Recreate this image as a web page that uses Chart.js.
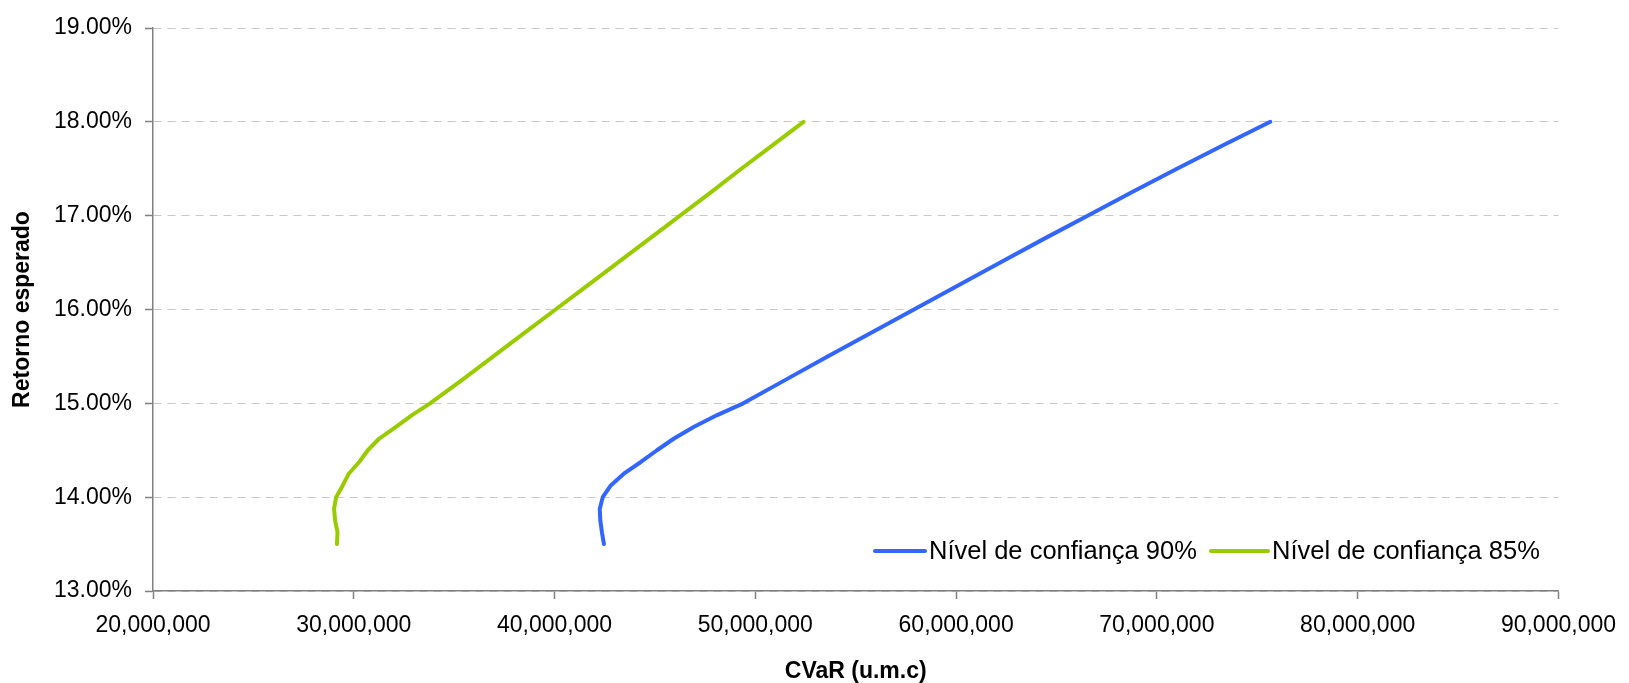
<!DOCTYPE html>
<html>
<head>
<meta charset="utf-8">
<title>Retorno esperado x CVaR</title>
<script src="https://cdn.jsdelivr.net/npm/chart.js@4.4.1/dist/chart.umd.min.js"></script>
<style>
  html, body { margin: 0; padding: 0; background: #ffffff; }
  #wrap { width: 1629px; height: 683px; }
</style>
</head>
<body>
<div id="wrap"><canvas id="grafico" width="1629" height="683"></canvas></div>
<script>
// Retorno esperado (%) de cada carteira da fronteira
const retornoEsperado = [13.5, 13.625, 13.75, 13.875, 14.0, 14.125, 14.25, 14.375, 14.5, 14.625, 14.75, 14.875,
  15.0, 15.25, 15.5, 15.75, 16.0, 16.25, 16.5, 16.75, 17.0, 17.25, 17.5, 17.75, 18.0];

// CVaR (u.m.c) para nível de confiança de 90%
const cvar90 = [42460000, 42360000, 42280000, 42250000, 42400000, 42800000, 43450000, 44300000, 45100000, 45950000,
  46950000, 48100000, 49400000, 51500000, 53600000, 55750000, 57900000, 60050000, 62200000, 64350000,
  66550000, 68750000, 71000000, 73300000, 75650000];

// CVaR (u.m.c) para nível de confiança de 85%
const cvar85 = [29160000, 29190000, 29070000, 29020000, 29120000, 29450000, 29750000, 30270000, 30700000, 31270000,
  32100000, 32900000, 33800000, 35400000, 36950000, 38500000, 40050000, 41600000, 43150000, 44700000,
  46250000, 47800000, 49300000, 50850000, 52400000];

const nomesSeries = ['Nível de confiança 90%', 'Nível de confiança 85%'];
const coresSeries = ['#3366ff', '#99cc00'];

// Marcas dos eixos
const ticksX = [20000000, 30000000, 40000000, 50000000, 60000000, 70000000, 80000000, 90000000];
const ticksY = [13, 14, 15, 16, 17, 18, 19];

const pontos = (xs) => xs.map((x, i) => ({ x: x, y: retornoEsperado[i] }));

const FONTE = "'Liberation Sans', Arial, Helvetica, sans-serif";

// Legenda desenhada dentro da área do gráfico, canto inferior direito
const legendaInterna = {
  id: 'legendaInterna',
  afterDraw(chart) {
    const ctx = chart.ctx;
    const y = 551;
    const itens = [
      { x0: 875, x1: 925, tx: 929 },
      { x0: 1211, x1: 1268, tx: 1272 }
    ];
    ctx.save();
    ctx.font = '25.5px ' + FONTE;
    ctx.textBaseline = 'middle';
    ctx.textAlign = 'left';
    chart.data.datasets.forEach((ds, i) => {
      const it = itens[i];
      ctx.strokeStyle = ds.borderColor;
      ctx.lineWidth = 4;
      ctx.lineCap = 'round';
      ctx.beginPath();
      ctx.moveTo(it.x0, y);
      ctx.lineTo(it.x1, y);
      ctx.stroke();
      ctx.fillStyle = '#000000';
      ctx.fillText(ds.label, it.tx, y + 1);
    });
    ctx.restore();
  }
};

new Chart(document.getElementById('grafico'), {
  type: 'scatter',
  data: {
    datasets: [
      {
        label: nomesSeries[0],
        data: pontos(cvar90),
        borderColor: coresSeries[0],
        backgroundColor: coresSeries[0],
        showLine: true,
        borderWidth: 4,
        pointRadius: 0,
        tension: 0,
        borderCapStyle: 'round',
        borderJoinStyle: 'round'
      },
      {
        label: nomesSeries[1],
        data: pontos(cvar85),
        borderColor: coresSeries[1],
        backgroundColor: coresSeries[1],
        showLine: true,
        borderWidth: 4,
        pointRadius: 0,
        tension: 0,
        borderCapStyle: 'round',
        borderJoinStyle: 'round'
      }
    ]
  },
  options: {
    responsive: false,
    animation: false,
    events: [],
    layout: { padding: { top: 28, right: 64, bottom: 0, left: 0 } },
    plugins: {
      legend: { display: false },
      tooltip: { enabled: false }
    },
    scales: {
      x: {
        type: 'linear',
        min: ticksX[0],
        max: ticksX[ticksX.length - 1],
        afterBuildTicks(scale) { scale.ticks = ticksX.map(v => ({ value: v })); },
        afterFit(scale) { scale.height = 92; },
        border: { display: true, color: '#808080', width: 1.5 },
        grid: {
          display: true,
          drawOnChartArea: false,
          drawTicks: true,
          tickLength: 8,
          tickColor: '#808080',
          tickWidth: 1.5
        },
        ticks: {
          color: '#000000',
          padding: 13,
          maxRotation: 0,
          autoSkip: false,
          font: { family: FONTE, size: 23 },
          callback: (v) => Number(v).toLocaleString('en-US')
        },
        title: {
          display: true,
          text: 'CVaR (u.m.c)',
          color: '#000000',
          font: { family: FONTE, size: 23, weight: 'bold', lineHeight: 1 },
          padding: { top: 0, bottom: 0 }
        }
      },
      y: {
        type: 'linear',
        min: ticksY[0],
        max: ticksY[ticksY.length - 1],
        afterBuildTicks(scale) { scale.ticks = ticksY.map(v => ({ value: v })); },
        afterFit(scale) { scale.width = 153; },
        border: { display: true, color: '#808080', width: 1.5, dash: [8, 6] },
        grid: {
          display: true,
          drawOnChartArea: true,
          color: '#c8c8c8',
          lineWidth: 1,
          drawTicks: true,
          tickLength: 8,
          tickColor: '#808080',
          tickWidth: 1.5,
          tickBorderDash: []
        },
        ticks: {
          color: '#000000',
          padding: 13,
          autoSkip: false,
          font: { family: FONTE, size: 23 },
          callback: (v) => Number(v).toFixed(2) + '%'
        },
        title: {
          display: true,
          text: 'Retorno esperado',
          color: '#000000',
          font: { family: FONTE, size: 23, weight: 'bold', lineHeight: 1 },
          padding: { top: 11, bottom: 0 }
        }
      }
    }
  },
  plugins: [legendaInterna]
});
</script>
</body>
</html>
